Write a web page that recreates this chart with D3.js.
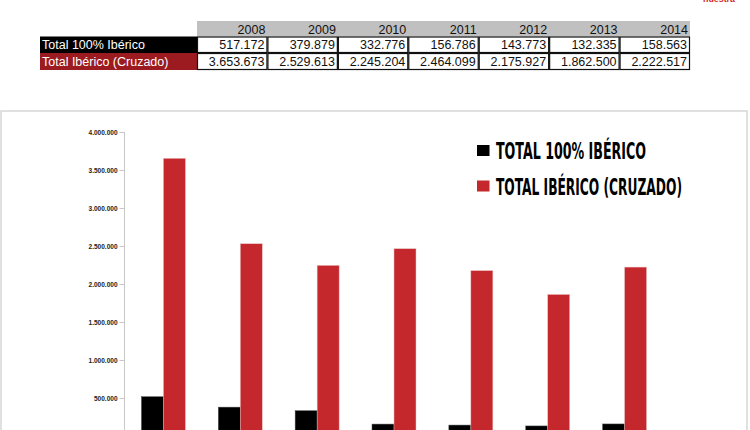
<!DOCTYPE html>
<html><head><meta charset="utf-8">
<script src="https://cdn.jsdelivr.net/npm/d3@7/dist/d3.min.js"></script>
<style>html,body{margin:0;padding:0;background:#fff;overflow:hidden}</style>
</head><body>
<script>
const years = ["2008","2009","2010","2011","2012","2013","2014"];
const iberico100 = [517172, 379879, 332776, 156786, 143773, 132335, 158563];
const ibericoCruzado = [3653673, 2529613, 2245204, 2464099, 2175927, 1862500, 2222517];
const seriesNames = ["Total 100% Ibérico", "Total Ibérico (Cruzado)"];
const legendNames = ["TOTAL 100% IBÉRICO", "TOTAL IBÉRICO (CRUZADO)"];
const yTicks = [500000, 1000000, 1500000, 2000000, 2500000, 3000000, 3500000, 4000000];

const W = 750, H = 430;
const svg = d3.select("body").append("svg").attr("width", W).attr("height", H);
const fmt = v => d3.format(",")(v).replace(/,/g, ".");
const seriesData = [iberico100, ibericoCruzado];
const colors = ["#000000", "#c4282c"];
const labelBg = ["#000000", "#9b1b20"];

// clipped red text at top right (only its lower edge is visible)
svg.append("text").attr("x", 703).attr("y", 1.8).attr("fill", "#d11f26")
  .attr("font-family", "Liberation Sans, Arial, sans-serif").attr("font-weight", "bold")
  .attr("font-size", 9).attr("textLength", 32).attr("lengthAdjust", "spacingAndGlyphs").text("nuestra");

// ---- table ----
const tx = d3.scaleBand().domain(years).range([197, 690]);
const rowY = [21, 36.5, 53, 70];
const tbl = svg.append("g").attr("font-family", "Liberation Sans, Arial, sans-serif").attr("font-size", 12.5);
tbl.append("rect").attr("x", 197).attr("y", rowY[0]).attr("width", 493).attr("height", rowY[1] - rowY[0]).attr("fill", "#c0c0c0");
tbl.selectAll("text.yr").data(years).join("text").attr("class", "yr")
  .attr("x", d => tx(d) + tx.bandwidth() - 2).attr("y", rowY[1] - 3)
  .attr("text-anchor", "end").attr("fill", "#111").text(d => d);
seriesData.forEach((vals, r) => {
  const y0 = rowY[r + 1], y1 = rowY[r + 2];
  tbl.append("rect").attr("x", 40).attr("y", y0).attr("width", 157).attr("height", y1 - y0).attr("fill", labelBg[r]);
  tbl.append("text").attr("x", 42).attr("y", y1 - 4).attr("fill", "#fff").text(seriesNames[r]);
  tbl.selectAll("rect.c" + r).data(years).join("rect").attr("class", "c" + r)
    .attr("x", d => tx(d) + 0.5).attr("y", y0 + 0.5).attr("width", tx.bandwidth() - 1).attr("height", y1 - y0 - 1)
    .attr("fill", "#fff").attr("stroke", "#111").attr("stroke-width", 1.2);
  tbl.selectAll("text.v" + r).data(vals).join("text").attr("class", "v" + r)
    .attr("x", (d, i) => tx(years[i]) + tx.bandwidth() - 3).attr("y", y1 - 4)
    .attr("text-anchor", "end").attr("fill", "#111").text(d => fmt(d));
});

// ---- chart frame ----
svg.append("rect").attr("x", 1).attr("y", 111).attr("width", 746).attr("height", 400)
  .attr("fill", "#fff").attr("stroke", "#d6d6d6").attr("stroke-width", 1.5);

const x = d3.scaleBand().domain(years).range([125, 663]).padding(0);
const y = d3.scaleLinear().domain([0, 4000000]).range([436, 132]);
const bw = 22;

const yAxis = svg.append("g").attr("transform", "translate(124.5,0)")
  .call(d3.axisLeft(y).tickValues(yTicks).tickFormat(fmt).tickSize(5).tickPadding(2));
yAxis.select(".domain").attr("stroke", "#c8c8c8").attr("d", "M0,132V436");
yAxis.selectAll(".tick line").attr("stroke", "#c8c8c8");
yAxis.selectAll(".tick text").attr("fill", "#222").attr("font-size", 6.5)
  .attr("font-family", "Liberation Sans, Arial, sans-serif").attr("font-weight", "bold");

seriesData.forEach((vals, s) => {
  svg.append("g").selectAll("rect").data(vals).join("rect")
    .attr("x", (d, i) => x(years[i]) + x.bandwidth() / 2 - bw + s * bw)
    .attr("y", d => y(d)).attr("width", bw).attr("height", d => y(0) - y(d))
    .attr("fill", colors[s]).attr("stroke", s === 1 ? "#e8c0c0" : "#555").attr("stroke-width", 0.5);
});

// ---- legend ----
const lg = svg.append("g");
const legW = [150, 186];
legendNames.forEach((name, i) => {
  const cy = 150.5 + i * 35.5;
  lg.append("rect").attr("x", 477).attr("y", cy - 5.5).attr("width", 12.5).attr("height", 11).attr("fill", colors[i]);
  lg.append("text").attr("x", 496).attr("y", cy + 8.5)
    .attr("font-family", "DejaVu Sans Condensed, DejaVu Sans, sans-serif").attr("font-weight", "bold")
    .attr("font-size", 23).attr("fill", "#000")
    .attr("textLength", legW[i]).attr("lengthAdjust", "spacingAndGlyphs").text(name);
});
</script>
</body></html>
